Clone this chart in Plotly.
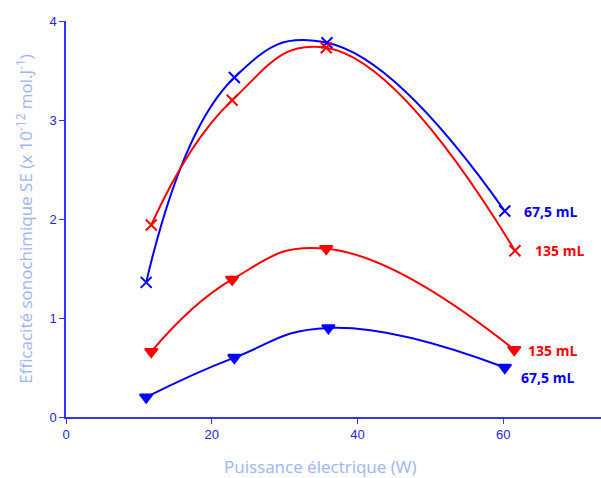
import plotly.graph_objects as go

# Data
x_blue_cross = [11.0, 23.1, 35.8, 60.2]
y_blue_cross = [1.36, 3.43, 3.78, 2.08]
x_red_cross = [11.7, 22.8, 35.7, 61.6]
y_red_cross = [1.94, 3.20, 3.73, 1.68]
x_red_tri = [11.7, 22.8, 35.7, 61.5]
y_red_tri = [0.66, 1.39, 1.70, 0.68]
x_blue_tri = [11.0, 23.1, 36.0, 60.2]
y_blue_tri = [0.20, 0.60, 0.90, 0.50]

labels = ["67,5 mL", "135 mL", "135 mL", "67,5 mL"]
x_ticks = [0, 20, 40, 60]
y_ticks = [0, 1, 2, 3, 4]
x_title = "Puissance électrique (W)"
y_title = "Efficacité sonochimique SE (x 10<sup>-12</sup> mol.J<sup>-1</sup>)"

BLUE = "#0000ff"
RED = "#ff0000"
TITLE_COLOR = "#9db4ff"

series = [
    (x_blue_cross, y_blue_cross, BLUE, "x-thin", 11),
    (x_red_cross, y_red_cross, RED, "x-thin", 11),
    (x_red_tri, y_red_tri, RED, "triangle-down", 11),
    (x_blue_tri, y_blue_tri, BLUE, "triangle-down", 11),
]

fig = go.Figure()
for xs, ys, col, sym, size in series:
    fig.add_trace(go.Scatter(
        x=xs, y=ys, mode="lines+markers",
        line=dict(color=col, width=2, shape="spline", smoothing=1.3),
        marker=dict(symbol=sym, size=size, color=col, line=dict(color=col, width=2)),
        showlegend=False,
    ))

shifts = [(17, 0), (18, 0), (12, -1), (14, -10)]
for (xs, ys, col, sym, size), lab, (dx, dy) in zip(series, labels, shifts):
    fig.add_annotation(
        x=xs[-1], y=ys[-1], xref="x", yref="y", text="<b>%s</b>" % lab,
        showarrow=False, xanchor="left", yanchor="middle",
        xshift=dx, yshift=dy,
        font=dict(family="Open Sans", size=14, color=col),
    )

# x-axis title (slightly left of the plot centre, as in the reference)
fig.add_annotation(
    x=0.475, y=0, xref="paper", yref="paper", text=x_title,
    showarrow=False, xanchor="center", yanchor="middle", yshift=-49,
    font=dict(family="Open Sans", size=17, color=TITLE_COLOR),
)

fig.update_layout(
    width=601, height=478,
    margin=dict(l=66, r=0, t=21, b=61, autoexpand=False),
    paper_bgcolor="white", plot_bgcolor="white",
    xaxis=dict(
        range=[0, 73.4], tickvals=x_ticks, showgrid=False, zeroline=False,
        automargin=False,
        showline=True, linecolor="#3333ff", linewidth=1.5,
        ticks="outside", ticklen=5, tickcolor="#3333ff",
        tickfont=dict(family="Liberation Sans", size=13, color="#2222ee"),
    ),
    yaxis=dict(
        range=[0, 4], tickvals=y_ticks, showgrid=False, zeroline=False,
        automargin=False,
        showline=True, linecolor="#3333ff", linewidth=1.5,
        ticks="outside", ticklen=5, tickcolor="#3333ff",
        tickfont=dict(family="Liberation Sans", size=13, color="#2222ee"),
        title=dict(text=y_title, standoff=12,
                   font=dict(family="Open Sans", size=17, color=TITLE_COLOR)),
    ),
)

fig.write_html(
    "out.html",
    config={"responsive": False, "displayModeBar": False},
    post_script="document.body.style.margin='0';document.body.style.overflow='hidden';",
)
